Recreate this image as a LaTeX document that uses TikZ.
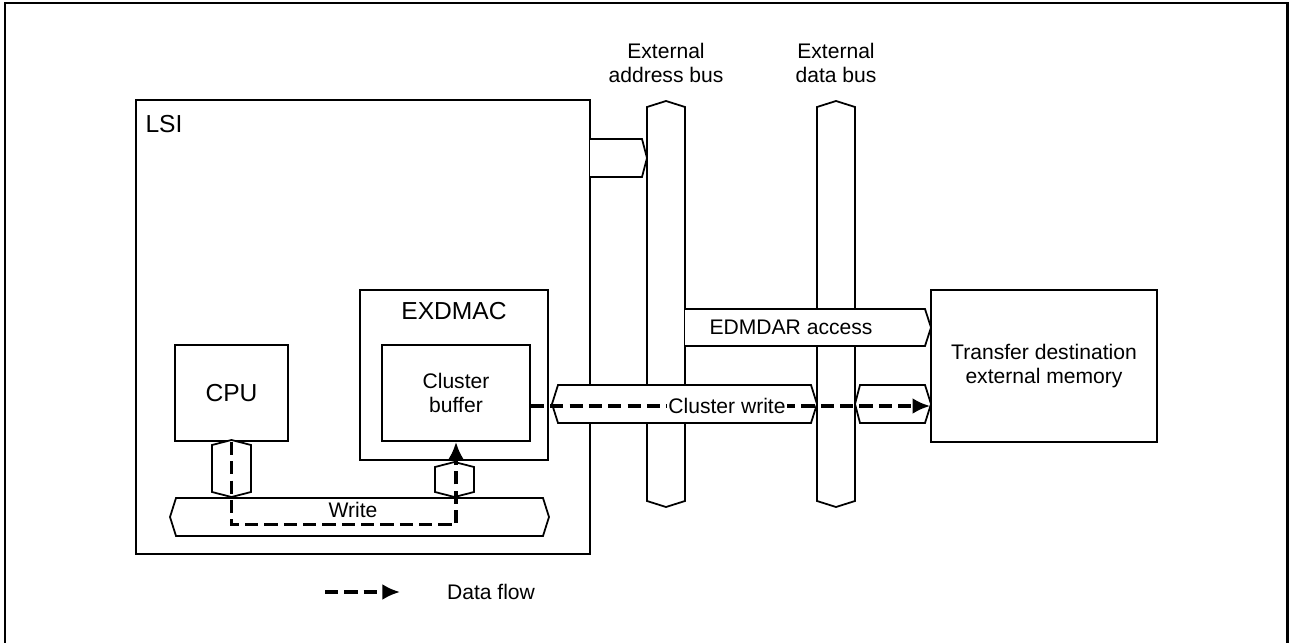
\documentclass[tikz,border=0pt]{standalone}
\usepackage{fontspec}
\setmainfont{Liberation Sans}
\usetikzlibrary{arrows.meta}

\tikzset{
  box/.style={draw, line width=1pt, inner sep=0pt, align=center},
  bus/.style={draw, line width=1pt, fill=white, line join=miter},
  flow/.style={line width=1.8pt, dash pattern=on 7.5pt off 3.5pt, -{Latex[length=10pt,width=9pt]}},
  frame/.style={line width=1.7pt},
  big/.style={font=\fontsize{14}{16}\selectfont},
}

\begin{document}
\begin{tikzpicture}[x=0.02cm, y=-0.02cm, font=\fontsize{12}{13.8}\selectfont]
    \useasboundingbox (0,0) rectangle (1290,642);
    \draw[frame] (5,650) -- (5,3) -- (1287,3) -- (1287,650);

    % blocks
    \node[box, minimum width=9.08cm, minimum height=9.08cm] (lsi) at (363,327) {};
    \node[big] (lsitext) at (164,124) {LSI};
    \node[box, minimum width=3.76cm, minimum height=3.4cm] (exdmac) at (454,375) {};
    \node[big] (exdmactext) at (454,311) {EXDMAC};
    \node[box, minimum width=2.96cm, minimum height=1.92cm] (buffer) at (456,393) {Cluster\\buffer};
    \node[box, big, minimum width=2.26cm, minimum height=1.92cm] (cpu) at (231.5,393) {CPU};
    \node[box, minimum width=4.52cm, minimum height=3.04cm] (dest) at (1044,366) {Transfer destination\\external memory};

    % internal bus
    \draw[bus] (212,445) -- (231.5,440) -- (251,445) -- (251,492) -- (231.5,497) -- (212,492) -- cycle;
    \draw[bus] (435,467) -- (454.5,462) -- (474,467) -- (474,492) -- (454.5,497) -- (435,492) -- cycle;
    \draw[bus] (176,498) -- (543,498) -- (549,517) -- (543,536) -- (176,536) -- (170,517) -- cycle;

    % external buses
    \draw[bus] (590,139) -- (642,139) -- (647,158) -- (642,177) -- (590,177);
    \draw[bus] (647,107) -- (666,101) -- (685,107) -- (685,501) -- (666,507) -- (647,501) -- cycle;
    \draw[bus] (817,107) -- (836,101) -- (855,107) -- (855,501) -- (836,507) -- (817,501) -- cycle;
    \node[align=center] (abus) at (666,63) {External\\address bus};
    \node[align=center] (dbus) at (836,63) {External\\data bus};

    \draw[bus] (685,309) -- (925,309) -- (931,327.5) -- (925,346) -- (685,346);
    \draw[bus] (558,385) -- (811,385) -- (817,404) -- (811,423) -- (558,423) -- (552,404) -- cycle;
    \draw[bus] (860,385) -- (925,385) -- (931,404) -- (925,423) -- (860,423) -- (855,404) -- cycle;
    \node (edmdar) at (791,327.5) {EDMDAR access};

    % data flow
    \coordinate (cw) at (0,406);
    \draw[flow] (cpu.south) -- ++(0,83) -| (buffer.south);
    \draw[flow] (buffer.east |- cw) -- (dest.west |- cw);
    \node[fill=white, inner sep=1pt] (cwtext) at (727,406) {Cluster write};
    \node (write) at (353,510) {Write};

    % legend
    \coordinate (lega) at (325,592);
    \coordinate (legb) at (400,592);
    \draw[flow] (lega) -- (legb);
    \node (legtext) at (491,592) {Data flow};
\end{tikzpicture}
\end{document}
